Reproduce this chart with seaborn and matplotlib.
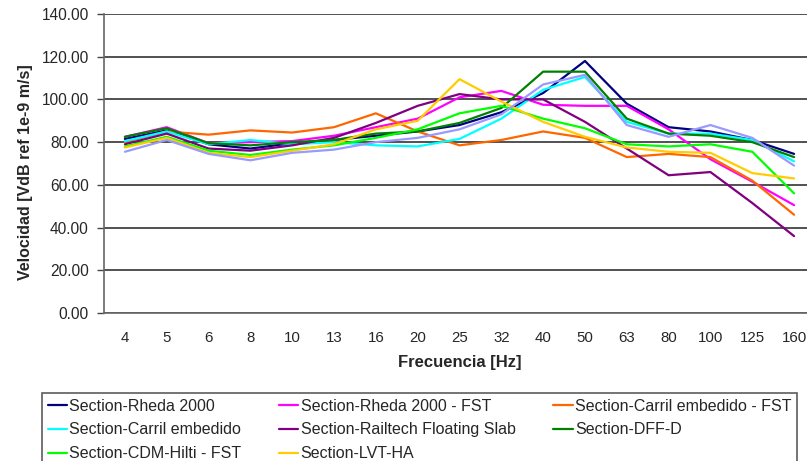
# Velocidad vs frecuencia (tercios de octava) por seccion de via
import matplotlib
matplotlib.use("Agg")
import matplotlib.pyplot as plt
import seaborn as sns

freqs = ["4", "5", "6", "8", "10", "13", "16", "20", "25", "32", "40", "50",
         "63", "80", "100", "125", "160"]

rheda = [81.5, 85.5, 79, 77, 79.5, 81, 83, 85, 88, 94, 103, 118, 98, 87, 85, 81, 74.5]
rheda_fst = [82.5, 87, 79.5, 80, 80.5, 83, 87, 91, 101, 104, 97.5, 97, 97, 86, 72, 61.5, 50.5]
carril_fst = [80, 85, 83.5, 85.5, 84.5, 87, 93.5, 85, 78.5, 81, 85, 82, 73, 74.5, 73, 62, 46]
carril = [80.5, 85, 79, 81, 79, 80, 78.5, 78, 81.5, 91, 104.5, 110.5, 89.5, 84, 84, 81, 71]
railtech = [79, 84, 77, 76, 78.5, 82, 89, 97, 102.5, 100, 100, 89.5, 77, 64.5, 66, 51.5, 36]
dff = [82.5, 86.5, 79.5, 78.5, 80, 81, 84, 85, 89, 96, 113, 113, 91, 84, 83, 80, 73]
cdm = [78, 82.5, 76, 74, 76.5, 78.5, 82, 86, 93.5, 97, 91, 86.5, 79, 78, 79, 75.5, 56]
lvt = [77.5, 82, 75, 73, 76, 79, 86, 90, 109.5, 99, 89.5, 82.5, 77.5, 75.5, 75, 65.5, 63]
extra = [75.5, 81, 74.5, 71.5, 75, 76.5, 80, 82, 86, 93, 107, 111.5, 88, 82.5, 88, 82, 69]  # sin leyenda

series = [
    ("Section-Rheda 2000", rheda, "#000080"),
    ("Section-Rheda 2000 - FST", rheda_fst, "#FF00FF"),
    ("Section-Carril embedido - FST", carril_fst, "#FF6600"),
    ("Section-Carril embedido", carril, "#00FFFF"),
    ("Section-Railtech Floating Slab", railtech, "#800080"),
    ("Section-DFF-D", dff, "#008000"),
    ("Section-CDM-Hilti - FST", cdm, "#00FF00"),
    ("Section-LVT-HA", lvt, "#FFCC00"),
    (None, extra, "#9999FF"),
]

sns.set_style("white")
plt.rcParams["font.family"] = ["Liberation Sans", "DejaVu Sans"]

fig = plt.figure(figsize=(8.07, 4.61), dpi=100)
ax = fig.add_axes([104 / 807, 1 - 313 / 461, 711 / 807, 299 / 461])

pos = list(range(len(freqs)))
handles = {}
for name, vals, col in series:
    sns.lineplot(x=pos, y=vals, color=col, linewidth=1.6, ax=ax, legend=False)
    if name:
        handles[name] = ax.lines[-1]

ax.set_xlim(-0.5, len(freqs) - 0.5)
ax.set_ylim(0, 140)
ax.set_yticks(range(0, 141, 20))
ax.set_yticklabels([f"{v:.2f}" for v in range(0, 141, 20)], fontsize=11.2)
ax.yaxis.grid(True, color="#333333", linewidth=1.2)
ax.set_axisbelow(True)

# ticks between categories, labels at the centers
ax.set_xticks([p + 0.5 for p in pos[:-1]])
ax.set_xticklabels([])
ax.set_xticks(pos, minor=True)
ax.set_xticklabels(freqs, minor=True, fontsize=10.8)
ax.tick_params(axis="x", which="minor", length=0, pad=13)
ax.tick_params(axis="both", which="major", direction="out", length=5, color="#444444", width=1)
ax.tick_params(axis="y", left=True, pad=6)

for s in ["top", "right"]:
    ax.spines[s].set_visible(False)
for s in ["left", "bottom"]:
    ax.spines[s].set_color("#666666")
    ax.spines[s].set_linewidth(1.2)

ax.set_xlabel("Frecuencia [Hz]", fontsize=12, fontweight="bold", labelpad=7)
ax.set_ylabel("Velocidad [VdB ref 1e-9 m/s]", fontsize=11.5, fontweight="bold")
ax.yaxis.set_label_coords(-0.1, 0.47)

order = ["Section-Rheda 2000", "Section-Carril embedido", "Section-CDM-Hilti - FST",
         "Section-Rheda 2000 - FST", "Section-Railtech Floating Slab", "Section-LVT-HA",
         "Section-Carril embedido - FST", "Section-DFF-D"]
leg = fig.legend([handles[n] for n in order], order, ncol=3, loc="upper left",
                 bbox_to_anchor=(42 / 807, 0, 755 / 807, 1 - 393 / 461), mode="expand",
                 fontsize=11.5, frameon=True, fancybox=False, edgecolor="#333333",
                 handlelength=1.2, handletextpad=0.15, borderpad=0.35, labelspacing=0.55,
                 borderaxespad=0)
leg.get_frame().set_linewidth(1.2)

fig.savefig("out.png", dpi=100)
